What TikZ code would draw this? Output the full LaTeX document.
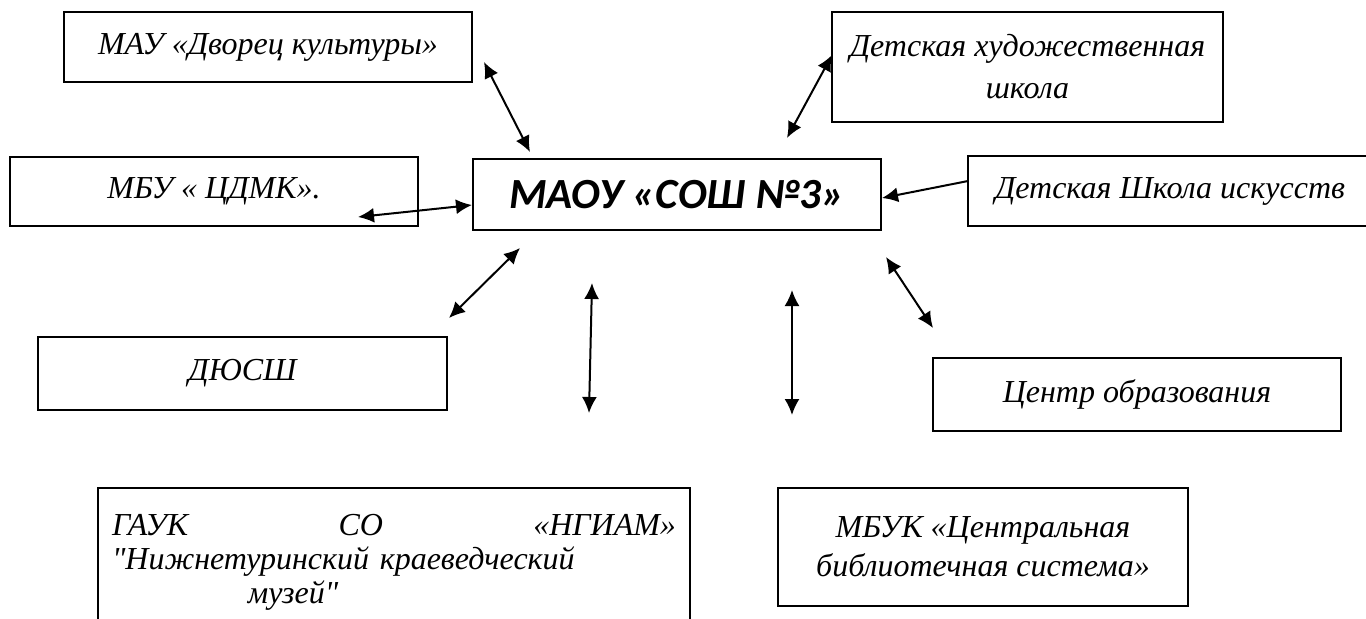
\documentclass[tikz,border=0pt]{standalone}
\usepackage{fontspec}
\setmainfont{Liberation Serif}[Ligatures=TeXOff]
\newfontfamily\calibri{Carlito}
\usetikzlibrary{arrows.meta}
\tikzset{
	every partner/.style={
		draw,
		line width=1pt,
		font=\fontsize{16}{21}\selectfont\itshape,
		align=center,
		inner sep=0pt
	},
	school/.style={
		every partner,
		font=\calibri\fontsize{21.5}{24}\selectfont\bfseries\itshape
	},
	link/.style={
		line width=1pt,
		{Latex[length=8pt,width=7.5pt]}-{Latex[length=8pt,width=7.5pt]}
	},
	oneway/.style={
		line width=1pt,
		-{Latex[length=8pt,width=7.5pt]}
	},
}

\begin{document}
\begin{tikzpicture}[x=0.5pt, y=-0.5pt]

\useasboundingbox (0,0) rectangle (1366,618);

% partners
\node [every partner, minimum width=204pt, minimum height=35pt] (dvorets) at (268,47) {МАУ «Дворец культуры»};
\node [every partner, minimum width=195.5pt, minimum height=55pt] (hudozh) at (1027.5,67) {Детская художественная\\школа};
\node [every partner, minimum width=204pt, minimum height=34.5pt] (tsdmk) at (214,191) {МБУ « ЦДМК».};
\node [school, minimum width=204pt, minimum height=35.5pt] (maou) at (677,194.5) {МАОУ «СОШ №3»};
\node [every partner, minimum width=202pt, minimum height=35pt] (iskusstv) at (1170,191) {Детская Школа искусств};
\node [every partner, minimum width=204.5pt, minimum height=36.5pt] (dyussh) at (242.5,373) {ДЮСШ};
\node [every partner, minimum width=204pt, minimum height=36.5pt] (tsentr) at (1137,394) {Центр образования};
\node [every partner, anchor=north west, align=left, text width=282pt, inner xsep=7pt, inner ysep=13pt,
	font=\fontsize{16}{17}\selectfont\itshape] (gauk) at (97,487)
	{ГАУК\hfill СО\hfill «НГИАМ»\\"Нижнетуринский краеведческий\\\hspace*{68pt}музей"\rule[-30pt]{0pt}{1pt}};
\node [every partner, minimum width=205pt, minimum height=59pt, font=\fontsize{16}{19.5}\selectfont\itshape] (mbuk) at (983,547)
	{МБУК «Центральная\\библиотечная система»};

% loose arrow ends
\foreach \a/\b [count=\i] in {484/62, 832/55, 358/217, 520/248, 592/283, 792/290, 886/257}
	\coordinate (link-\i-a) at (\a,\b);
\foreach \a/\b [count=\i] in {530/152, 787/138, 472/205, 449/318, 589/413, 792/415, 933/328}
	\coordinate (link-\i-b) at (\a,\b);
\coordinate (iskusstv-in) at (968,181);
\coordinate (maou-in) at (882,198);

\foreach \i in {1,...,7}
	\draw [link] (link-\i-a) -- (link-\i-b);

\draw [oneway] (iskusstv-in) -- (maou-in);

\end{tikzpicture}
\end{document}
